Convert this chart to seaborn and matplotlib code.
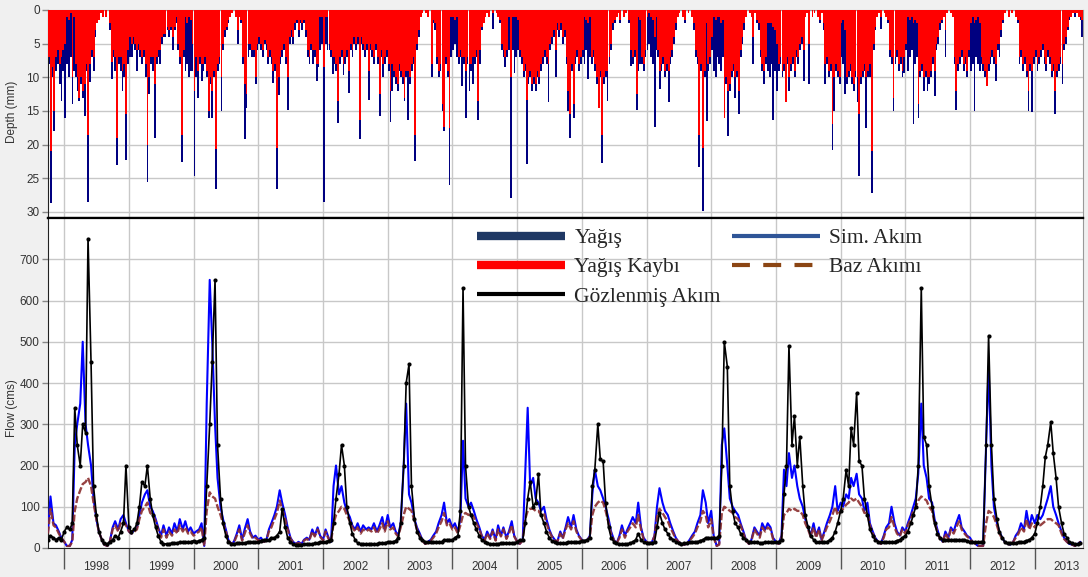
import numpy as np
import pandas as pd
import matplotlib
matplotlib.use('Agg')
import matplotlib.pyplot as plt
import matplotlib.dates as mdates
from matplotlib.lines import Line2D
import seaborn as sns

# ---------------- data ----------------
# precipitation and precipitation loss (mm), 10-day steps, one line per water year (Oct..Sep)
yagis = [
    8, 28.7, 10, 18, 9, 8, 11, 13.5, 9, 16, 8, 10, 7, 14, 9, 10, 12, 13.5, 11, 13, 15.8, 9, 28.5, 10.7, 7, 9, 4, 2, 1.5, 0.5, 1, 0, 1, 0, 3, 10.3,
    7, 9, 23, 8, 9, 12, 10, 22.3, 8, 7, 7, 5, 6, 9, 6, 7, 8, 7, 10, 25.6, 12.5, 8, 9, 19, 8, 7, 8, 5, 4, 4, 3, 4, 3, 6, 3, 2,
    6, 8, 22.6, 7, 9, 8, 10, 9, 9, 24.7, 10, 13, 8, 10.5, 9, 8, 10, 16, 11, 16, 10, 26.6, 9, 8, 15, 6, 4, 3, 2, 1, 0.5, 0, 1, 5, 1, 2,
    8, 19.2, 14.5, 7, 6, 7, 7, 11, 6, 5, 6, 7, 5, 6, 8, 7, 8, 10.8, 9, 26.6, 12.6, 8, 7, 6, 8, 14.8, 5, 4, 5, 3, 2, 4, 2, 3, 2, 4,
    7, 8, 6, 8, 7, 10.5, 8.5, 6, 5, 28.5, 5, 6, 6, 7, 9.5, 8, 9, 16.8, 8, 7, 9.6, 8, 7, 12.3, 6, 7, 5, 6, 5, 19.2, 5, 6, 7, 6, 13.3, 6,
    7, 8, 6, 8, 15.8, 7, 10, 8, 7, 9, 16.7, 12, 10, 11, 12, 9, 10, 11, 13.5, 10, 16.3, 11, 9, 8, 22.5, 6, 4, 1, 0.5, 0, 0.5, 1, 0, 10, 2, 3,
    8, 10, 9, 15, 18, 8, 10, 26, 7, 6, 5, 7, 8, 7, 11.3, 8, 16, 8, 12, 9, 11, 8, 7, 16.3, 8, 3, 2, 1, 0.5, 1, 0, 2.8, 0, 0.5, 1, 2,
    6, 7, 8.5, 7, 6, 28, 6, 9.4, 7, 6, 7, 8, 10, 9, 22.9, 11, 10, 12, 11, 12, 10, 11, 9, 8, 7, 8, 13.6, 6, 5, 4, 10, 3, 4, 3, 5, 4,
    8, 15, 19, 9, 16, 8, 7, 9, 8, 7, 8, 6, 10.3, 7, 8, 7, 9, 11, 14.6, 10, 22.8, 11, 10, 13.5, 8, 6, 3, 2, 1, 0.5, 2, 0, 1, 0.5, 0, 2,
    8.3, 8, 7, 14.8, 9, 8, 8, 9, 7, 6, 5, 7, 8, 17.4, 6, 7, 11.7, 9, 8, 10, 9, 13.7, 8, 7, 5, 3, 1, 0.5, 0, 1, 2, 0, 0.5, 0, 1, 3,
    7, 8, 23.3, 9, 29.8, 10, 16.5, 9, 8, 6, 9, 10, 7, 8, 9, 7, 16.1, 11, 18.7, 12, 10, 9, 13, 10, 15.5, 7, 5, 3, 1, 0, 0.5, 1, 8, 0.5, 2, 3,
    7, 9, 11, 8, 9, 10, 8, 16.3, 9, 12, 9, 8, 10, 9, 13.7, 8, 12, 9, 8, 10, 7, 8, 6, 5, 10.5, 1, 0.5, 11, 0, 1, 0.5, 0, 1, 2, 0.5, 3,
    11, 8, 10, 9, 20.8, 15, 9, 10, 11, 7, 8, 12.5, 11, 10, 9, 11, 12, 10, 13.6, 24.7, 11, 10, 9, 17.6, 10, 10, 27.2, 6, 3, 1, 0.5, 2.8, 0, 0.5, 1, 2,
    7, 8, 15, 8, 7, 9, 8, 10, 9.3, 6, 9, 7, 6, 17, 8, 7, 16, 10, 9, 12, 10, 12, 11, 10, 8, 12.8, 6, 5, 3, 2, 1, 7, 0.5, 0, 0.5, 1,
    8, 14.9, 9, 8, 7, 9, 8, 10, 7, 9, 8, 15, 7, 8, 9, 8, 9, 10, 11.3, 9, 8, 7, 8, 10.5, 6, 7, 4, 2, 0.5, 0, 1, 0, 0.5, 0, 1, 2,
    8, 7, 9, 8, 10, 15, 9, 15.2, 8, 7, 9, 8, 7, 6, 8, 9, 7, 8, 10, 9, 15.5, 10, 9, 8, 11, 6, 5, 3, 1.5, 1, 0.5, 1, 0.5, 1, 1.5, 4,
]
yagis_kaybi = [
    7, 21, 8.5, 15, 7, 6, 8, 7, 6, 5, 1, 1.5, 0.5, 10, 1, 8, 10, 13, 10, 12, 11, 8, 18.6, 8, 6, 7, 3, 2, 1.5, 0.5, 1, 0, 1, 0, 2, 7.7,
    6, 7, 19, 7, 7, 9, 8, 15.5, 6, 4, 5, 4, 5, 6, 5, 6, 7, 6, 8, 20, 10, 7, 7, 11, 7, 6, 6, 4, 3.5, 3.5, 2.5, 3, 2.5, 4, 2.5, 1,
    5, 7, 18.5, 6, 1, 2, 1, 1.5, 5, 12, 7, 9, 7, 8, 8, 7, 9, 15, 10, 12, 9, 20.6, 8, 7, 10, 5, 3, 2.5, 1.5, 1, 0.5, 0, 1, 3, 1, 1.5,
    7, 11, 12.5, 5, 5, 6, 6, 10, 5, 4, 5, 6, 4.5, 5, 7, 6, 7, 9, 8, 20.5, 10, 7, 6, 5, 7, 10, 4, 3, 4, 2, 1.5, 3, 1.5, 2, 1.5, 3,
    6, 7, 5, 6, 6, 8, 8, 1, 1, 8.5, 1, 1, 5, 6, 7, 7, 8, 13.5, 7, 6, 8, 7, 6, 9, 5, 6, 4, 5, 4, 16.3, 4, 5, 6, 5, 9, 5,
    6, 7, 5, 7, 12.5, 6, 8, 7, 6, 8, 12, 8, 9, 10, 11, 8, 9, 10, 13.1, 9, 9, 10, 8, 7, 18.5, 5, 3, 1, 0.5, 0, 0.5, 1, 0, 8, 1.5, 2,
    7, 9, 8, 14, 17.4, 7, 9, 17.5, 1, 1, 1.5, 1, 7, 6, 7, 7, 9, 7, 8, 8, 7, 7, 6, 13.5, 6, 2.5, 2, 1, 0.5, 1, 0, 0.5, 0, 0.5, 1, 1.5,
    5, 6, 7, 6, 1, 10, 1, 1, 1, 1.5, 6, 7, 9, 8, 13.3, 10, 9, 11, 10, 11, 9, 10, 8, 7, 6, 7, 8, 5, 4, 3, 6, 2, 3, 2, 4, 3,
    7, 12, 15.5, 8, 14, 7, 6, 8, 7, 6, 1, 1.5, 2, 1, 7, 6, 8, 10, 14.6, 9, 18.6, 10, 9, 9, 7, 5, 2, 1.5, 1, 0.5, 1.5, 0, 1, 0.5, 0, 1.5,
    6, 7, 6, 12.5, 1, 1.5, 7, 8, 6, 1, 0.5, 1, 1.5, 4, 1, 6, 9, 8, 7, 9, 8, 9, 7, 6, 4, 2, 1, 0.5, 0, 1, 1.5, 0, 0.5, 0, 1, 2,
    6, 7, 18.5, 8, 20.5, 9, 2, 8, 7, 4, 1, 1.5, 1, 1, 2, 1.5, 16.1, 10, 12, 11, 9, 8, 10, 9, 12, 6, 4, 2, 1, 0, 0.5, 1, 4, 0.5, 1.5, 2,
    6, 8, 9, 7, 2, 2, 2, 2.5, 3, 5, 8, 7, 9, 8, 13.7, 7, 10, 8, 7, 9, 6, 7, 5, 4, 6, 1, 0.5, 5, 0, 1, 0.5, 0, 1, 1.5, 0.5, 2,
    8, 7, 9, 8, 17, 10, 8, 9, 10, 2, 1.5, 3, 10, 9, 8, 10, 11, 9, 10, 15.5, 10, 9, 8, 10, 9, 8, 21, 5, 2.5, 1, 0.5, 1, 0, 0.5, 1, 1.5,
    6, 7, 13, 7, 6, 8, 7, 9, 7, 5, 1, 1.5, 1, 2, 1.5, 2, 14, 9, 8, 10, 9, 10, 10, 9, 7, 9, 5, 4, 2, 1.5, 1, 3, 0.5, 0, 0.5, 1,
    7, 12, 8, 7, 6, 8, 7, 9, 6, 2, 1, 2, 1.5, 1, 2, 7, 8, 9, 11.3, 8, 7, 6, 7, 8, 5, 5, 3, 1.5, 0.5, 0, 1, 0, 0.5, 0, 1, 1.5,
    7, 6, 8, 7, 9, 12, 8, 9, 7, 6, 8, 7, 6, 5, 7, 8, 6, 7, 9, 8, 12, 9, 8, 7, 8, 5, 4, 2.5, 1, 1, 0.5, 0.5, 0.5, 1, 1, 1.5,
]

# flows (cms), half-month steps (1st and 15th), one line per water year
gozlenen = [
    20, 30, 25, 20, 25, 20, 40, 50, 45, 60, 340, 250, 200, 300, 280, 750, 450, 150, 80, 40, 20, 12, 10, 15,
    20, 30, 25, 40, 60, 200, 50, 40, 45, 60, 100, 160, 150, 200, 120, 80, 50, 30, 15, 10, 10, 10, 12, 12,
    12, 15, 15, 15, 15, 15, 18, 15, 18, 20, 25, 150, 300, 450, 650, 250, 120, 60, 30, 15, 10, 10, 12, 12,
    12, 12, 15, 15, 15, 15, 15, 18, 20, 20, 20, 25, 25, 30, 40, 95, 50, 25, 15, 10, 8, 8, 8, 10,
    10, 10, 10, 12, 12, 15, 15, 15, 18, 20, 60, 120, 180, 250, 200, 100, 60, 35, 20, 12, 10, 10, 10, 10,
    10, 10, 10, 12, 12, 12, 15, 15, 15, 18, 25, 60, 200, 400, 445, 150, 70, 40, 25, 20, 15, 15, 15, 15,
    15, 15, 15, 20, 20, 20, 20, 25, 30, 90, 630, 200, 100, 80, 60, 45, 30, 20, 15, 12, 10, 10, 10, 10,
    12, 12, 12, 12, 12, 12, 15, 20, 20, 60, 120, 160, 100, 110, 180, 80, 60, 40, 25, 18, 15, 12, 12, 12,
    12, 15, 15, 15, 15, 15, 18, 18, 20, 25, 150, 190, 300, 215, 210, 110, 50, 25, 15, 12, 10, 10, 10, 10,
    12, 15, 20, 35, 20, 15, 12, 12, 12, 15, 50, 85, 60, 45, 35, 25, 20, 15, 12, 10, 12, 12, 15, 15,
    15, 15, 18, 20, 25, 25, 25, 25, 25, 30, 200, 500, 440, 150, 90, 60, 50, 35, 25, 20, 15, 15, 15, 15,
    12, 12, 15, 15, 15, 15, 15, 15, 20, 130, 200, 490, 250, 320, 200, 270, 150, 80, 50, 30, 20, 15, 15, 15,
    15, 15, 20, 25, 40, 60, 90, 120, 190, 150, 290, 250, 375, 210, 200, 120, 80, 45, 30, 20, 15, 15, 15, 15,
    15, 15, 15, 18, 20, 25, 30, 40, 60, 80, 100, 200, 630, 270, 250, 150, 100, 60, 35, 25, 20, 20, 20, 20,
    20, 20, 20, 20, 20, 18, 15, 15, 15, 15, 15, 15, 250, 515, 250, 120, 70, 40, 25, 15, 12, 12, 12, 12,
    15, 15, 15, 18, 20, 25, 35, 60, 100, 150, 220, 250, 305, 230, 170, 100, 60, 35, 25, 15, 12, 10, 10, 12,
]
sim_akim = [
    40, 125, 60, 55, 40, 25, 15, 5, 5, 20, 250, 300, 350, 500, 300, 250, 200, 120, 70, 40, 20, 8, 5, 15,
    50, 65, 45, 70, 80, 60, 40, 35, 45, 50, 80, 110, 130, 140, 100, 90, 70, 50, 30, 55, 30, 50, 35, 60,
    40, 70, 45, 65, 40, 50, 35, 40, 45, 60, 5, 350, 650, 500, 300, 170, 100, 70, 45, 20, 10, 15, 35, 55,
    20, 45, 70, 40, 25, 30, 20, 25, 15, 20, 45, 60, 80, 100, 140, 110, 80, 50, 25, 15, 10, 15, 10, 20,
    25, 20, 45, 30, 50, 30, 20, 45, 25, 15, 150, 200, 130, 150, 110, 90, 75, 55, 45, 60, 40, 55, 45, 50,
    45, 60, 40, 55, 75, 45, 80, 50, 60, 40, 30, 60, 200, 350, 130, 110, 70, 50, 35, 20, 10, 15, 20, 30,
    40, 60, 80, 110, 60, 70, 50, 60, 40, 70, 260, 120, 100, 110, 90, 70, 50, 30, 20, 40, 25, 45, 20, 55,
    30, 50, 25, 40, 65, 30, 15, 10, 20, 180, 340, 150, 170, 120, 110, 90, 100, 70, 45, 30, 20, 15, 40, 25,
    50, 75, 50, 80, 45, 30, 20, 15, 20, 30, 130, 190, 150, 140, 120, 100, 70, 40, 20, 10, 30, 55, 30, 45,
    60, 75, 60, 110, 50, 25, 15, 10, 15, 30, 100, 145, 110, 90, 80, 60, 40, 25, 15, 10, 8, 10, 20, 30,
    40, 60, 80, 140, 110, 60, 90, 30, 5, 10, 250, 290, 200, 120, 100, 90, 80, 60, 40, 20, 10, 20, 50, 40,
    30, 60, 45, 60, 50, 25, 15, 10, 30, 190, 150, 230, 170, 200, 150, 120, 100, 70, 50, 30, 60, 30, 50, 20,
    40, 60, 80, 100, 150, 90, 110, 100, 130, 120, 170, 150, 180, 130, 120, 90, 110, 60, 40, 25, 15, 10, 30, 50,
    60, 100, 60, 40, 30, 50, 40, 60, 80, 100, 120, 180, 350, 200, 170, 120, 110, 70, 45, 25, 15, 40, 25, 50,
    40, 60, 80, 50, 40, 30, 25, 15, 10, 5, 5, 5, 250, 440, 200, 100, 60, 40, 25, 15, 10, 8, 15, 30,
    40, 60, 45, 90, 50, 80, 60, 80, 70, 80, 100, 120, 150, 100, 80, 60, 40, 25, 15, 10, 8, 5, 10, 15,
]
baz_akim = [
    35, 95, 55, 50, 35, 25, 15, 5, 5, 15, 90, 120, 140, 155, 160, 170, 150, 110, 70, 40, 20, 8, 5, 15,
    45, 55, 40, 60, 65, 55, 40, 35, 40, 45, 70, 90, 100, 110, 85, 80, 65, 45, 25, 45, 25, 40, 30, 45,
    35, 55, 40, 50, 35, 40, 30, 35, 40, 50, 5, 90, 135, 125, 120, 100, 80, 60, 40, 18, 10, 12, 30, 45,
    18, 35, 55, 35, 22, 25, 18, 22, 15, 18, 40, 50, 70, 85, 115, 95, 70, 45, 22, 15, 10, 12, 10, 18,
    22, 18, 40, 28, 45, 28, 18, 40, 22, 15, 60, 80, 90, 100, 95, 80, 65, 50, 40, 50, 35, 45, 40, 45,
    40, 50, 35, 45, 60, 40, 65, 45, 50, 35, 28, 50, 80, 100, 95, 90, 65, 45, 30, 18, 10, 12, 18, 25,
    35, 50, 65, 85, 55, 60, 45, 50, 35, 55, 80, 85, 80, 85, 75, 60, 45, 28, 18, 35, 22, 40, 18, 45,
    28, 45, 22, 35, 55, 28, 15, 10, 18, 70, 90, 95, 95, 90, 90, 80, 85, 60, 40, 28, 18, 15, 35, 22,
    45, 60, 45, 65, 40, 28, 18, 15, 18, 28, 80, 100, 110, 115, 110, 90, 60, 35, 18, 10, 25, 45, 25, 40,
    50, 60, 50, 80, 45, 22, 15, 10, 15, 28, 75, 95, 85, 75, 65, 50, 35, 22, 15, 10, 8, 10, 18, 25,
    35, 50, 65, 90, 80, 50, 70, 25, 5, 8, 85, 100, 95, 90, 85, 75, 70, 55, 35, 18, 10, 18, 45, 35,
    25, 50, 40, 50, 45, 22, 15, 10, 25, 80, 85, 95, 90, 95, 90, 90, 80, 60, 45, 28, 50, 25, 45, 18,
    35, 50, 65, 80, 100, 80, 90, 95, 105, 110, 120, 115, 120, 110, 100, 85, 85, 55, 35, 22, 15, 10, 25, 45,
    50, 75, 50, 35, 28, 45, 35, 55, 70, 90, 100, 115, 125, 120, 115, 100, 90, 60, 40, 22, 15, 35, 22, 45,
    35, 50, 65, 45, 35, 28, 22, 15, 10, 5, 5, 5, 60, 90, 85, 75, 55, 35, 22, 15, 10, 8, 15, 25,
    35, 50, 40, 70, 45, 60, 50, 60, 55, 60, 65, 70, 70, 65, 60, 55, 35, 22, 15, 10, 8, 5, 10, 15,
]

depth_ticks = [0, 5, 10, 15, 20, 25, 30]
flow_ticks = [0, 100, 200, 300, 400, 500, 600, 700]
legend_labels = ['Yağış', 'Yağış Kaybı', 'Gözlenmiş Akım', 'Sim. Akım', 'Baz Akımı']

# dates
months = pd.date_range('1997-10-01', '2013-09-01', freq='MS')
dekad_dates = [m + pd.Timedelta(days=d) for m in months for d in (0, 10, 20)]
flow_dates = pd.date_range('1997-10-01', periods=len(gozlenen), freq='SMS')

precip = pd.DataFrame({'date': dekad_dates, 'yagis': yagis, 'kayip': yagis_kaybi})
flows = pd.DataFrame({'date': flow_dates, 'gozlenen': gozlenen,
                      'sim': sim_akim, 'baz': baz_akim})

# ---------------- style ----------------
sns.set_theme(style='white')
plt.rcParams['font.family'] = ['Liberation Sans', 'DejaVu Sans']

W, H = 1088, 577
fig = plt.figure(figsize=(W / 100, H / 100), dpi=100, facecolor='#f0f0f0')
ax_t = fig.add_axes([48 / W, 1 - 218 / H, (1083 - 48) / W, (218 - 10) / H])
ax_b = fig.add_axes([48 / W, 1 - 548 / H, (1083 - 48) / W, (548 - 218) / H])

x0, x1 = pd.Timestamp('1997-10-01'), pd.Timestamp('2013-09-30')
grid_c = '#c8c8c8'
txt_c = '#333333'

# ---- top: precipitation (inverted) ----
ax_t.bar(mdates.date2num(precip['date']), precip['yagis'], width=10.2, align='edge',
         color='#000080', linewidth=0, zorder=2)
ax_t.bar(mdates.date2num(precip['date']), precip['kayip'], width=10.2, align='edge',
         color='#ff0000', linewidth=0, zorder=3)
ax_t.set_ylim(30.9, 0)
ax_t.set_yticks(depth_ticks)

# ---- bottom: flows ----
sns.lineplot(data=flows, x='date', y='sim', color='#0000ff', lw=1.5, ax=ax_b, zorder=3)
sns.lineplot(data=flows, x='date', y='baz', color='#8b2d2d', lw=1.7, alpha=0.9,
             linestyle=(0, (3, 1)), ax=ax_b, zorder=4)
sns.lineplot(data=flows, x='date', y='gozlenen', color='black', lw=1.2, marker='o',
             markersize=3, markeredgewidth=0, ax=ax_b, zorder=5)
ax_b.set_ylim(0, 800)
ax_b.set_yticks(flow_ticks)
ax_b.set_xlabel('')
ax_b.set_ylabel('')

for ax in (ax_t, ax_b):
    ax.set_facecolor('white')
    ax.set_xlim(x0, x1)
    ax.set_axisbelow(True)
    ax.xaxis.set_major_locator(mdates.YearLocator())
    ax.xaxis.set_minor_locator(mdates.MonthLocator(bymonth=7))
    ax.xaxis.set_major_formatter(plt.NullFormatter())
    ax.grid(True, which='major', color=grid_c, lw=1)
    ax.tick_params(axis='y', length=4, width=1, color='#888888', labelsize=8.5,
                   labelcolor=txt_c, pad=2, left=True)
    for s in ax.spines.values():
        s.set_color('#999999')
        s.set_linewidth(0.8)
    ax.spines['left'].set_color('#222222')

ax_t.xaxis.set_minor_formatter(plt.NullFormatter())
ax_t.tick_params(axis='x', which='both', length=0)
ax_b.xaxis.set_minor_formatter(mdates.DateFormatter('%Y'))
ax_b.tick_params(axis='x', which='major', length=15, width=1, color='#555555', bottom=True)
ax_b.tick_params(axis='x', which='minor', length=0, pad=9, labelsize=8.5, labelcolor=txt_c)

ax_t.spines['bottom'].set_color('black')
ax_t.spines['bottom'].set_linewidth(1.6)
ax_b.spines['top'].set_color('black')
ax_b.spines['top'].set_linewidth(1.6)
ax_b.spines['bottom'].set_color('#222222')

fig.text(12 / W, 1 - 112 / H, 'Depth (mm)', rotation=90, ha='center', va='center',
         fontsize=8.5, color=txt_c)
fig.text(12 / W, 1 - 408 / H, 'Flow (cms)', rotation=90, ha='center', va='center',
         fontsize=8.5, color=txt_c)

# ---- legend ----
handles = [
    Line2D([], [], color='#1f3864', lw=6, solid_capstyle='butt'),
    Line2D([], [], color='#ff0000', lw=6, solid_capstyle='butt'),
    Line2D([], [], color='black', lw=3, solid_capstyle='butt'),
    Line2D([], [], color='#2f5597', lw=3, solid_capstyle='butt'),
    Line2D([], [], color='#8b4513', lw=3, linestyle=(0, (4.3, 3.2)), dash_capstyle='butt'),
]
fig.legend(handles, legend_labels, loc='upper left', bbox_to_anchor=(477 / W, 1 - 228 / H),
           ncol=2, frameon=False, prop={'family': 'Liberation Serif', 'size': 15.5},
           handlelength=4.1, handletextpad=0.42, columnspacing=0.5, labelspacing=0.43,
           borderpad=0, borderaxespad=0)

fig.savefig('out.png', dpi=100, facecolor=fig.get_facecolor())
